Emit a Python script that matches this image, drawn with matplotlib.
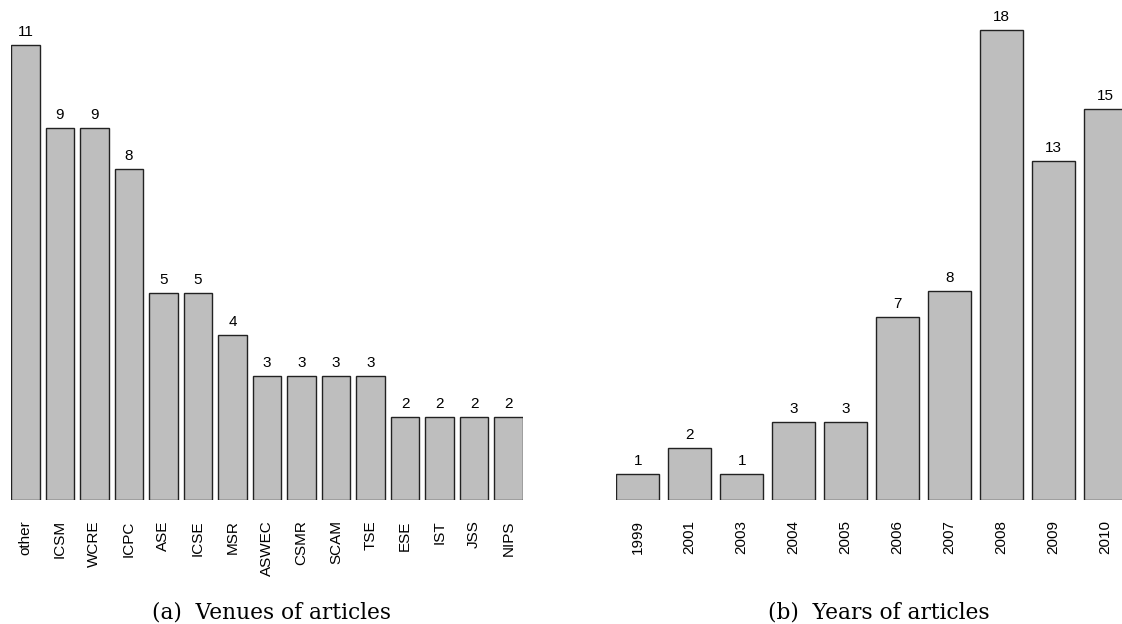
import matplotlib
matplotlib.use('Agg')
import matplotlib.pyplot as plt
import numpy as np

venues = ['other', 'ICSM', 'WCRE', 'ICPC', 'ASE', 'ICSE', 'MSR', 'ASWEC',
          'CSMR', 'SCAM', 'TSE', 'ESE', 'IST', 'JSS', 'NIPS']
venue_counts = [11, 9, 9, 8, 5, 5, 4, 3, 3, 3, 3, 2, 2, 2, 2]

years = ['1999', '2001', '2003', '2004', '2005', '2006', '2007', '2008', '2009', '2010']
year_counts = [1, 2, 1, 3, 3, 7, 8, 18, 13, 15]

W, H = 1122, 624
fig = plt.figure(figsize=(W / 100, H / 100), dpi=100)

sans = ['Liberation Sans', 'DejaVu Sans']
serif = ['DejaVu Serif']


def caption(txt, x0, x1, baseline):
    # size the caption so it spans x0..x1 pixels
    t = fig.text(0, 0, txt, fontsize=16, family=serif)
    w = t.get_window_extent(renderer=fig.canvas.get_renderer()).width
    t.remove()
    fig.text((x0 + x1) / 2 / W, 1 - baseline / H, txt, ha='center', va='baseline',
             fontsize=16 * (x1 - x0) / w, family=serif)


def barpanel(rect, names, vals, xlim, ylim):
    ax = fig.add_axes(rect)
    x = np.arange(len(vals)) * 1.2
    ax.bar(x, vals, width=1.0, color='#bebebe', edgecolor='#222222', linewidth=1.0)
    for xi, v in zip(x, vals):
        ax.text(xi, v + ylim[1] * 0.012, str(v), ha='center', va='bottom',
                fontsize=11, family=sans)
    ax.set_xlim(*xlim)
    ax.set_ylim(*ylim)
    ax.set_xticks(x)
    ax.set_xticklabels(names, rotation=90, fontsize=11, family=sans, va='top')
    ax.tick_params(axis='x', length=0, pad=14.5)
    ax.set_yticks([])
    for s in ax.spines.values():
        s.set_visible(False)
    return ax


base = 1 - 500 / H
# left: 28.75 px per data unit, 41.36 px per count
barpanel([11 / W, base, 512 / W, 500 / H], venues, venue_counts,
         (-0.5, 17.3), (0, 500 / 41.36))
# right: 43.33 px per data unit, 26.1 px per count
barpanel([616 / W, base, (W - 616) / W, 500 / H], years, year_counts,
         (-0.5, -0.5 + (W - 616) / 43.33), (0, 500 / 26.1))

caption('(a)  Venues of articles', 153, 391, 619)
caption('(b)  Years of articles', 768, 990, 619)

fig.savefig('out.png', dpi=100)
